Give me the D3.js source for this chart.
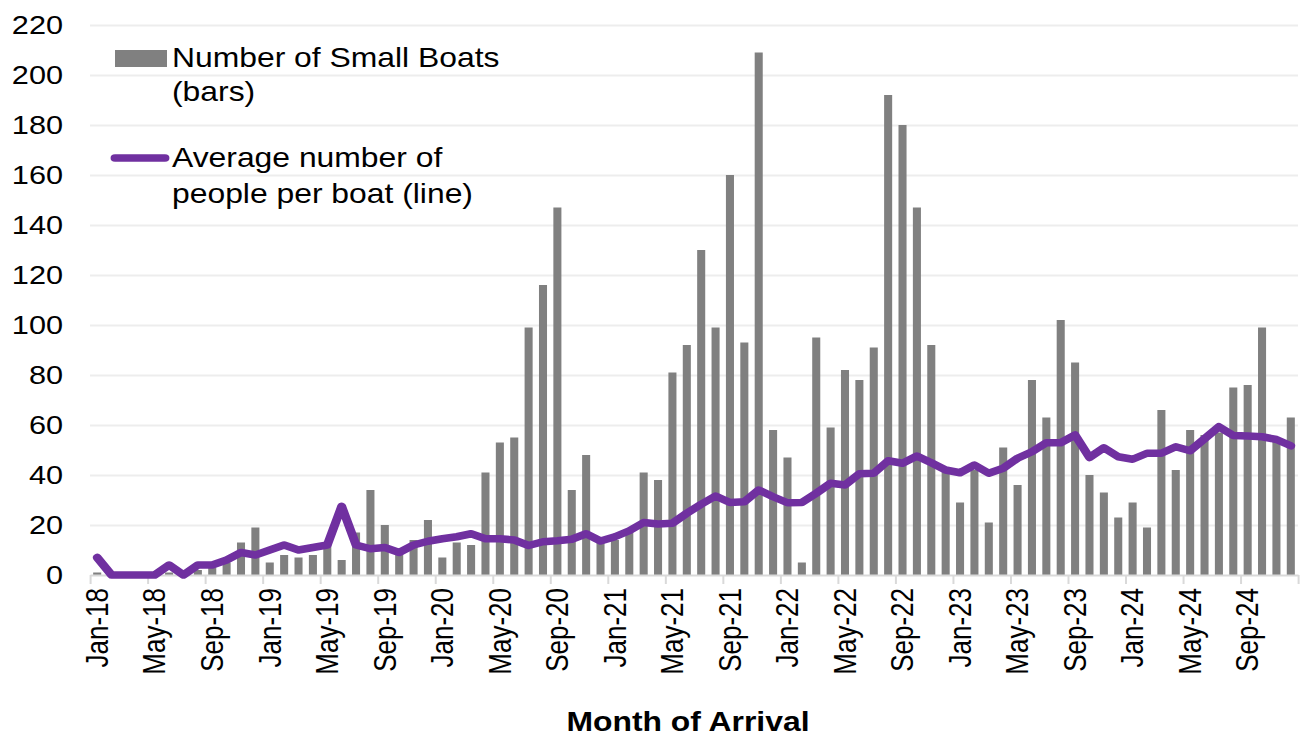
<!DOCTYPE html>
<html>
<head>
<meta charset="utf-8">
<script src="https://cdn.jsdelivr.net/npm/d3@7"></script>
<style>
  html, body { margin: 0; padding: 0; background: #fff; }
  svg { display: block; font-family: "Liberation Sans", Arial, sans-serif; }
</style>
</head>
<body>
<svg id="chart" width="1302" height="736"></svg>
<script>
/* categories */
const monthNames = ["Jan", "Feb", "Mar", "Apr", "May", "Jun", "Jul", "Aug", "Sep", "Oct", "Nov", "Dec"];
const years = ["18", "19", "20", "21", "22", "23", "24"];
const tickLabels = ["Jan-18", "May-18", "Sep-18", "Jan-19", "May-19", "Sep-19", "Jan-20", "May-20", "Sep-20",
  "Jan-21", "May-21", "Sep-21", "Jan-22", "May-22", "Sep-22", "Jan-23", "May-23", "Sep-23",
  "Jan-24", "May-24", "Sep-24"];
const yTicks = [0, 20, 40, 60, 80, 100, 120, 140, 160, 180, 200, 220];

/* number of small boats per month (bars) */
const boats = [
  1, 0, 0, 0, 1, 1, 0, 2, 3, 5, 13, 19,
  5, 8, 7, 8, 13, 6, 17, 34, 20, 9, 14, 22,
  7, 13, 12, 41, 53, 55, 99, 116, 147, 34, 48, 15,
  14, 17, 41, 38, 81, 92, 130, 99, 160, 93, 209, 58,
  47, 5, 95, 59, 82, 78, 91, 192, 180, 147, 92, 42,
  29, 42, 21, 51, 36, 78, 63, 102, 85, 40, 33, 23,
  29, 19, 66, 42, 58, 56, 57, 75, 76, 99, 54, 63
];

/* average number of people per boat (line) */
const avgPeople = [
  7, 0, 0, 0, 0, 4, 0, 4, 4, 6, 9, 8,
  10, 12, 10, 11, 12, 27.5, 12, 10.5, 11, 9, 12, 13.5,
  14.5, 15.3, 16.5, 14.5, 14.5, 14, 11.8, 13.3, 13.7, 14.3, 16.5, 13.6,
  15.3, 17.7, 21, 20.4, 20.7, 24.7, 28.3, 31.6, 29, 29.3, 34, 31.3,
  28.9, 29, 32.7, 36.7, 36, 40.5, 40.7, 45.7, 44.7, 47.6, 44.9, 42,
  40.9, 44, 40.7, 42.7, 46.7, 49.3, 52.9, 52.9, 56, 47, 50.9, 47.3,
  46.3, 48.7, 48.7, 51.3, 49.7, 54.5, 59.3, 55.8, 55.6, 55.3, 54.2, 51.7
];

const months = [];
years.forEach(yr => monthNames.forEach(m => months.push(`${m}-${yr}`)));
const data = months.map((m, i) => ({ month: m, boats: boats[i], avg: avgPeople[i] }));

/* the reference is stretched sideways, so draw in a narrower viewBox and stretch it */
const sx = 1.18;
const VW = 1302 / sx, VH = 736;
const svg = d3.select("#chart")
  .attr("viewBox", `0 0 ${VW} ${VH}`)
  .attr("preserveAspectRatio", "none");

const plotL = 90 / sx, plotR = 1298 / sx, plotT = 25, plotB = 575;
const fs = 26;

const x = d3.scaleBand().domain(months).range([plotL, plotR]).paddingInner(0.44).paddingOuter(0.22);
const xEdge = d3.scaleLinear().domain([0, months.length]).range([plotL, plotR]);
const y = d3.scaleLinear().domain([0, 220]).range([plotB, plotT]);

/* gridlines */
svg.append("g")
  .attr("transform", `translate(${plotL},0)`)
  .call(d3.axisLeft(y).tickValues(yTicks.slice(1)).tickSize(-(plotR - plotL)).tickFormat(""))
  .call(g => g.select(".domain").remove())
  .call(g => g.selectAll("line").attr("stroke", "#ededed").attr("stroke-width", 2));

/* y tick labels */
svg.append("g")
  .attr("transform", `translate(${63 / sx},0)`)
  .call(d3.axisLeft(y).tickValues(yTicks).tickSize(0).tickPadding(0))
  .call(g => g.select(".domain").remove())
  .call(g => g.selectAll("text").attr("font-size", fs).attr("fill", "#000")
    .attr("font-family", "Liberation Sans, Arial, sans-serif"));

/* bars */
svg.append("g").selectAll("rect").data(data).join("rect")
  .attr("x", d => x(d.month))
  .attr("width", x.bandwidth())
  .attr("y", d => y(d.boats))
  .attr("height", d => plotB - y(d.boats))
  .attr("fill", "#808080");

/* x axis line and ticks every 4 months */
svg.append("g")
  .attr("transform", `translate(0,${plotB})`)
  .call(d3.axisBottom(xEdge).tickValues(d3.range(0, months.length + 1, 4)).tickSize(9).tickSizeOuter(0).tickFormat(""))
  .call(g => g.select(".domain").attr("stroke", "#d9d9d9").attr("stroke-width", 2))
  .call(g => g.selectAll(".tick line").attr("stroke", "#d9d9d9").attr("stroke-width", 2 / sx));

/* x tick labels, rotated */
svg.append("g")
  .attr("transform", `translate(0,${plotB})`)
  .call(d3.axisBottom(x).tickValues(tickLabels).tickSize(0).tickPadding(0))
  .call(g => g.select(".domain").remove())
  .call(g => g.selectAll("text")
    .attr("font-size", fs).attr("fill", "#000")
    .attr("font-family", "Liberation Sans, Arial, sans-serif")
    .attr("text-anchor", "end")
    .attr("transform", "rotate(-90)")
    .attr("x", -13).attr("y", 0).attr("dy", "0.35em"));

/* line */
const line = d3.line().x(d => x(d.month) + x.bandwidth() / 2).y(d => y(d.avg));
svg.append("path").datum(data)
  .attr("fill", "none")
  .attr("stroke", "#7030a0")
  .attr("stroke-width", 7.5)
  .attr("stroke-linejoin", "round")
  .attr("stroke-linecap", "round")
  .attr("d", line);

/* axis title */
svg.append("text")
  .attr("x", 688 / sx).attr("y", 731)
  .attr("text-anchor", "middle")
  .attr("font-size", 27).attr("font-weight", "bold")
  .text("Month of Arrival");

/* legend */
const lfs = 27;
const legend = svg.append("g");
legend.append("rect").attr("x", 115 / sx).attr("y", 50).attr("width", 52 / sx).attr("height", 17).attr("fill", "#808080");
legend.append("text").attr("x", 172 / sx).attr("y", 67).attr("font-size", lfs).text("Number of Small Boats");
legend.append("text").attr("x", 172 / sx).attr("y", 101).attr("font-size", lfs).text("(bars)");
legend.append("line").attr("x1", 115 / sx).attr("x2", 165 / sx).attr("y1", 158).attr("y2", 158)
  .attr("stroke", "#7030a0").attr("stroke-width", 7.5).attr("stroke-linecap", "round");
legend.append("text").attr("x", 172 / sx).attr("y", 167).attr("font-size", lfs).text("Average number of");
legend.append("text").attr("x", 172 / sx).attr("y", 203).attr("font-size", lfs).text("people per boat (line)");
</script>
</body>
</html>
